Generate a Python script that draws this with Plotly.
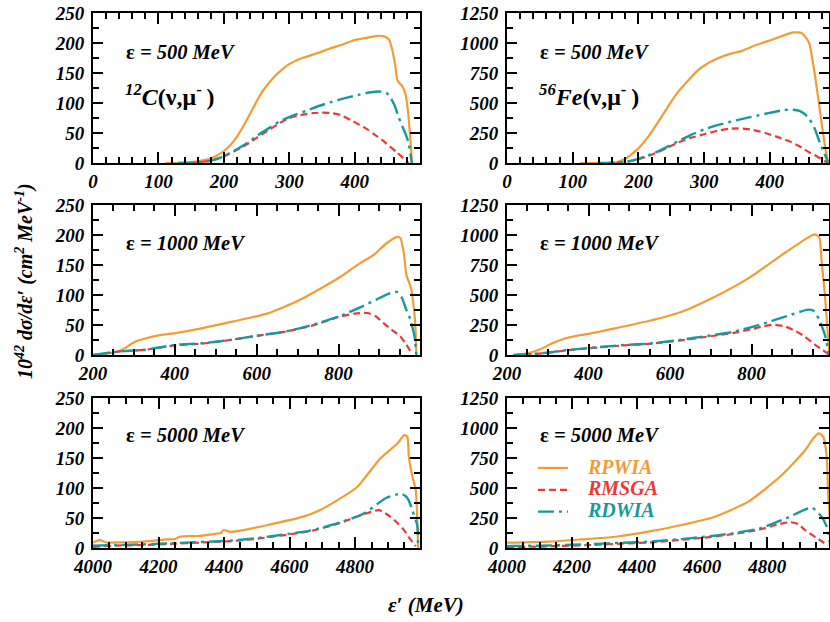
import plotly.graph_objects as go
from plotly.subplots import make_subplots

# ---------------- data ----------------
# Panel: 12C, 500 MeV
c500_rpwia_x = [110,130,150,170,180,190,200,210,220,230,240,250,260,270,280,290,300,320,340,360,380,400,420,435,445,452,457,462,465,468,472,477,481,484,486,487]
c500_rpwia_y = [0,0.3,1.5,5,8,13,20,30,44,62,82,103,121,135,147,157,165,175,182,190,197,205,209,212,211,206,189,160,138,133,129,116,88,50,22,0]
c500_rmsga_x = [150,176,195,215,235,250,270,286,300,317,335,350,365,378,393,403,418,429,442,454,464,472,478,482]
c500_rmsga_y = [0,3,9,19,31,42,56,67,75,80,83,84,83,80,72,66,57,48,38,27,18,10,4,0]
c500_rdwia_x = [130,150,176,195,215,235,250,270,286,305,326,345,365,385,407,425,440,448,455,461,467,473,478,482,485,487]
c500_rdwia_y = [0,0.5,3,9,20,33,45,59,70,79,87,95,102,108,114,118,119,117,108,95,76,60,47,34,15,0]

# Panel: 56Fe, 500 MeV
fe500_rpwia_x = [111,140,164,180,185,190,200,215,230,245,260,276,290,301,320,342,354,380,405,420,435,448,455,460,464,469,476,481,485,489]
fe500_rpwia_y = [0,0.5,2,35,53,75,122,220,340,470,590,690,770,815,870,914,928,985,1031,1060,1089,1083,1045,997,886,719,442,247,108,0]
fe500_rmsga_x = [150,182,200,223,242,261,280,300,320,338,352,370,393,410,428,445,458,470,478,484,488]
fe500_rmsga_y = [0,10,32,75,122,172,210,240,268,285,289,280,250,220,185,140,95,60,35,14,0]
fe500_rdwia_x = [140,160,182,200,223,242,261,280,300,320,340,360,380,400,422,433,445,453,460,468,477,483,489]
fe500_rdwia_y = [0,3,11,35,80,130,183,235,280,315,344,370,394,418,442,445,435,408,367,290,156,80,0]

# Panel: 12C, 1000 MeV
c1000_rpwia_x = [200,230,258,280,299,330,364,405,462,543,625,706,804,850,886,915,943,951,959,966,976,984,988,990]
c1000_rpwia_y = [0,2,5,12,21,28,33,37,44,56,69,92,130,152,167,185,197,195,172,133,114,78,44,0]
c1000_rmsga_x = [200,266,331,401,466,535,600,670,735,804,840,870,890,910,930,951,965,975]
c1000_rmsga_y = [0,6,9,16,19,25,32,39,49,64,69,70,65,53,42,31,18,7]
c1000_rdwia_x = [200,266,331,401,466,535,600,670,735,800,861,900,922,943,955,963,975,985,990]
c1000_rdwia_y = [0,6,9,17,19.5,25,32,39,50,64,82,95,102,105,95,80,60,33,0]

# Panel: 56Fe, 1000 MeV
fe1000_rpwia_x = [220,250,280,310,340,370,400,465,547,629,710,792,874,935,955,966,972,980,986,991]
fe1000_rpwia_y = [0,15,45,95,135,160,176,222,283,361,486,639,833,972,1006,981,778,500,222,0]
fe1000_rmsga_x = [216,285,350,420,487,555,622,690,757,800,830,855,880,905,930,956,975,990]
fe1000_rmsga_y = [0,13,40,62,80,95,120,152,185,215,240,252,240,205,155,85,40,5]
fe1000_rdwia_x = [216,285,350,420,487,555,622,690,757,824,887,939,952,965,980,990]
fe1000_rdwia_y = [0,14,42,64,83,97,125,158,194,256,325,378,368,300,167,0]

# Panel: 12C, 5000 MeV
c5000_rpwia_x = [4000,4021,4042,4080,4123,4180,4225,4250,4266,4320,4378,4390,4398,4419,4460,4531,4633,4684,4735,4807,4837,4878,4929,4949,4959,4964,4975,4985,4990,4992]
c5000_rpwia_y = [9,13,9,9.5,10,12,14.5,15,19,20,24,25,30,27,30,38,51,61,76,102,122,150,174,188,186,152,119,97,41,0]
c5000_rmsga_x = [4000,4072,4154,4241,4324,4409,4493,4577,4662,4745,4825,4873,4908,4930,4949,4965,4975,4985]
c5000_rmsga_y = [2,4,5,7,9,11,15,21,28,40,56,63,52,41,30,17,10,3]
c5000_rdwia_x = [4000,4072,4154,4241,4324,4409,4493,4577,4662,4745,4825,4893,4925,4939,4955,4964,4975,4990,4992]
c5000_rdwia_y = [4,5,6,8,10,12,16,22,29,41,57,83,89,91,86,79,62,37,0]

# Panel: 56Fe, 5000 MeV
fe5000_rpwia_x = [4000,4127,4229,4332,4434,4537,4639,4742,4845,4917,4942,4959,4972,4983,4988,4990,4995]
fe5000_rpwia_y = [44,53,72,94,136,192,261,386,608,817,914,955,930,761,400,360,0]
fe5000_rmsga_x = [4000,4098,4183,4268,4353,4440,4525,4609,4694,4778,4830,4870,4895,4916,4957,4988]
fe5000_rmsga_y = [8,12,18,26,37,47,65,87,115,155,195,215,200,150,75,20]
fe5000_rdwia_x = [4000,4014,4098,4183,4268,4353,4440,4525,4609,4694,4778,4858,4937,4963,4983,4995]
fe5000_rdwia_y = [15,17,19,25,33,44,53,72,94,122,164,247,336,275,178,0]

series_names = ["RPWIA", "RMSGA", "RDWIA"]
series_colors = ["#F39C34", "#EE3838", "#17999D"]
series_dash = ["solid", "7px,4px", "16px,5px,3px,5px"]
series_width = [2.2, 2.2, 2.4]

panel_labels = ["ε = 500 MeV", "ε = 500 MeV", "ε = 1000 MeV", "ε = 1000 MeV", "ε = 5000 MeV", "ε = 5000 MeV"]
nucleus_labels = ["12|C", "56|Fe"]

x_ranges = [[0, 499.5], [0, 490], [200, 999], [200, 990], [4000, 4998], [4000, 4990]]
x_dtick = [100, 100, 200, 200, 200, 200]
x_minor = [20, 20, 50, 50, 50, 50]
y_ranges = [[0, 250], [0, 1250]]
y_dtick = [50, 250]
y_minor = [25, 125]

panels = [
    (c500_rpwia_x, c500_rpwia_y, c500_rmsga_x, c500_rmsga_y, c500_rdwia_x, c500_rdwia_y),
    (fe500_rpwia_x, fe500_rpwia_y, fe500_rmsga_x, fe500_rmsga_y, fe500_rdwia_x, fe500_rdwia_y),
    (c1000_rpwia_x, c1000_rpwia_y, c1000_rmsga_x, c1000_rmsga_y, c1000_rdwia_x, c1000_rdwia_y),
    (fe1000_rpwia_x, fe1000_rpwia_y, fe1000_rmsga_x, fe1000_rmsga_y, fe1000_rdwia_x, fe1000_rdwia_y),
    (c5000_rpwia_x, c5000_rpwia_y, c5000_rmsga_x, c5000_rmsga_y, c5000_rdwia_x, c5000_rdwia_y),
    (fe5000_rpwia_x, fe5000_rpwia_y, fe5000_rmsga_x, fe5000_rmsga_y, fe5000_rdwia_x, fe5000_rdwia_y),
]

# ---------------- figure ----------------
W, H = 830, 622
FONT = "Liberation Serif"
fig = make_subplots(rows=3, cols=2)

col_px = [(93, 420), (507, 829)]
row_px = [(13, 163), (205, 355), (398, 548)]

legend_panel = 5
for p, data in enumerate(panels):
    r, c = p // 2 + 1, p % 2 + 1
    for s in range(3):
        xs, ys = data[2 * s], data[2 * s + 1]
        fig.add_trace(go.Scatter(
            x=xs, y=ys, mode="lines", line_shape="spline",
            line=dict(color=series_colors[s], width=series_width[s], dash=series_dash[s], smoothing=0.6),
            name="<span style='font-size:20px;color:%s'><b><i>%s</i></b></span>" % (series_colors[s], "\u00a0\u00a0\u00a0" + series_names[s]),
            legendgroup=series_names[s], showlegend=(p == legend_panel),
            hoverinfo="skip"), row=r, col=c)

tickfont = dict(family=FONT, size=19, color="black", weight="bold", style="italic")
for p in range(6):
    r, c = p // 2, p % 2
    idx = "" if p == 0 else str(p + 1)
    x0, x1 = col_px[c]
    y0, y1 = row_px[r]
    fig.layout["xaxis" + idx].update(
        domain=[x0 / W, x1 / W], range=x_ranges[p], dtick=x_dtick[p], tick0=0,
        showline=True, linewidth=2, linecolor="black", mirror="ticks",
        ticks="inside", ticklen=11, tickwidth=2, tickcolor="black", automargin=False,
        minor=dict(ticks="inside", ticklen=6, tickwidth=2, tickcolor="black", dtick=x_minor[p], tick0=0, showgrid=False),
        showgrid=False, zeroline=False, tickfont=tickfont)
    fig.layout["yaxis" + idx].update(
        domain=[1 - y1 / H, 1 - y0 / H], range=y_ranges[c], dtick=y_dtick[c], tick0=0,
        showline=True, linewidth=2, linecolor="black", mirror="ticks",
        ticks="inside", ticklen=10, tickwidth=2, tickcolor="black", automargin=False,
        ticklabelstandoff=3,
        minor=dict(ticks="inside", ticklen=6, tickwidth=2, tickcolor="black", dtick=y_minor[c], tick0=0, showgrid=False),
        showgrid=False, zeroline=False, tickfont=tickfont)

annotations = []
label_y_px = [52, 243, 435]
for p in range(6):
    r, c = p // 2, p % 2
    xl = (col_px[c][0] + 31) / W
    txt = panel_labels[p]
    eps, rest = txt.split(" ", 1)
    annotations.append(dict(
        x=xl, y=1 - label_y_px[r] / H, xref="paper", yref="paper", xanchor="left", yanchor="middle",
        text="<b>%s</b><b><i> %s</i></b>" % (eps, rest), showarrow=False,
        font=dict(family=FONT, size=20.5, color="black")))
for c in range(2):
    mass, sym = nucleus_labels[c].split("|")
    annotations.append(dict(
        x=(col_px[c][0] + 30) / W, y=1 - 95 / H, xref="paper", yref="paper", xanchor="left", yanchor="middle",
        text="<b><i><sup>%s</sup>%s</i>(ν,μ<sup>-</sup>\u2009)</b>" % (mass, sym), showarrow=False,
        font=dict(family=FONT, size=24, color="black")))

annotations.append(dict(
    x=24 / W, y=1 - 281 / H, xref="paper", yref="paper", xanchor="center", yanchor="middle",
    text="<b><i>10<sup>42</sup> dσ/dε′ (cm<sup>2</sup> MeV<sup>-1</sup>)</i></b>", textangle=-90,
    showarrow=False, font=dict(family=FONT, size=20, color="black")))
annotations.append(dict(
    x=426 / W, y=1 - 605 / H, xref="paper", yref="paper", xanchor="center", yanchor="middle",
    text="<b><i>ε′ (MeV)</i></b>", showarrow=False, font=dict(family=FONT, size=21, color="black")))

fig.update_layout(
    width=W, height=H, margin=dict(l=0, r=0, t=0, b=0, autoexpand=False),
    paper_bgcolor="white", plot_bgcolor="white",
    annotations=annotations,
    showlegend=True,
    legend=dict(x=533 / W, y=1 - 452 / H, xanchor="left", yanchor="top",
                bgcolor="rgba(0,0,0,0)", font=dict(family=FONT, size=14.5, color="black"),
                itemwidth=30, tracegroupgap=0),
)

fig.write_html("out.html", config={"displayModeBar": False, "staticPlot": True},
               post_script="document.body.style.margin='0px';document.body.style.overflow='hidden';")
